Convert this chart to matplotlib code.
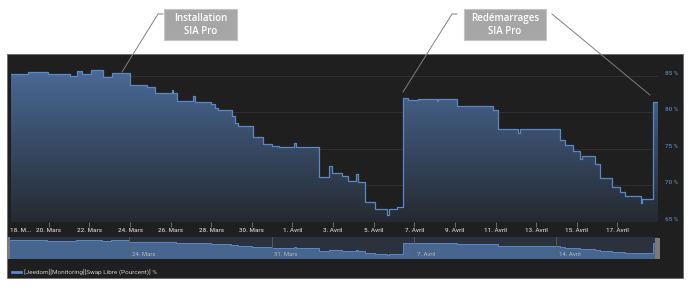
import matplotlib
matplotlib.use('Agg')
import matplotlib.pyplot as plt
import matplotlib.dates as mdates
import matplotlib.transforms as mtransforms
from matplotlib.patches import Rectangle
from matplotlib.lines import Line2D
import numpy as np
import pandas as pd

# Swap libre (%), steps held until next point
start = pd.Timestamp('2019-03-18')
day_offsets = [0.14, 0.98, 1.97, 3.05, 3.39, 3.64, 4.08, 4.67, 5.12, 6.00,
               6.84, 7.24, 8.07, 8.12, 8.32, 9.11, 9.21, 10.00, 10.19, 10.34,
               11.03, 11.18, 11.33, 12.06, 12.56, 13.00, 13.34, 14.08, 14.18, 15.32,
               15.81, 15.96, 16.45, 16.74, 17.14, 17.24, 17.58, 18.07, 18.67, 18.77,
               19.16, 19.45, 19.70, 20.19, 21.13, 21.18, 22.11, 23.89, 24.13, 25.12,
               25.22, 27.19, 27.43, 27.83, 28.17, 28.27, 28.91, 29.16, 29.75, 30.14,
               30.38, 31.18, 31.23, 31.77, 32.00]
swap_values = [85.3, 85.5, 85.2, 85.0, 85.7, 85.3, 85.8, 84.9, 85.4, 83.7,
               83.5, 82.6, 83.1, 82.6, 81.6, 82.2, 81.4, 81.1, 80.6, 80.3,
               79.5, 78.6, 78.1, 76.6, 75.7, 75.4, 75.2, 75.8, 75.3, 71.2,
               72.7, 71.7, 71.3, 70.6, 71.6, 70.5, 67.7, 66.8, 66.0, 66.8,
               67.1, 82.0, 81.7, 81.9, 81.6, 81.8, 80.9, 80.3, 77.8, 77.2,
               77.7, 76.2, 75.6, 74.7, 73.6, 74.1, 72.9, 71.0, 69.8, 69.1,
               68.5, 67.6, 68.2, 81.4, 81.4]

tick_dates = ['2019-03-20', '2019-03-22', '2019-03-24', '2019-03-26', '2019-03-28',
              '2019-03-30', '2019-04-01', '2019-04-03', '2019-04-05', '2019-04-07',
              '2019-04-09', '2019-04-11', '2019-04-13', '2019-04-15', '2019-04-17']
tick_labels = ['20. Mars', '22. Mars', '24. Mars', '26. Mars', '28. Mars',
               '30. Mars', '1. Avril', '3. Avril', '5. Avril', '7. Avril',
               '9. Avril', '11. Avril', '13. Avril', '15. Avril', '17. Avril']
nav_dates = ['2019-03-24', '2019-03-31', '2019-04-07', '2019-04-14']
nav_labels = ['24. Mars', '31. Mars', '7. Avril', '14. Avril']
y_ticks = [65, 70, 75, 80, 85]

times = start + pd.to_timedelta(day_offsets, unit='D')
tnum = mdates.date2num(times.to_pydatetime())

W, H = 690, 287
def box(x0, y0, x1, y1):
    return [x0 / W, 1 - y1 / H, (x1 - x0) / W, (y1 - y0) / H]

fig = plt.figure(figsize=(6.9, 2.87), dpi=100)
fig.patch.set_facecolor('white')

# dark panel (behind the axes)
fig.patches.append(Rectangle((7 / W, 1 - 278 / H), 676 / W, 224 / H, transform=fig.transFigure,
                             facecolor='#1f1f1f', edgecolor='#6a6a6a', lw=0.6, zorder=-10))

line_col = '#5b87c3'
tick_font = 'Roboto'

# main chart
ax = fig.add_axes(box(11, 54, 658, 222))
ax.set_facecolor('none')
ymin, ymax = 65, 88
poly = ax.fill_between(tnum, swap_values, ymin, step='post', color='none', lw=0)
grad = np.linspace(1, 0, 256).reshape(-1, 1)
cmap = matplotlib.colors.LinearSegmentedColormap.from_list('g', ['#252a31', '#4a6a98'])
im = ax.imshow(grad, extent=[tnum[0], tnum[-1], ymin, 86], aspect='auto', cmap=cmap,
               origin='upper', zorder=1)
im.set_clip_path(poly.get_paths()[0], transform=ax.transData)
ax.set_xlim(tnum[0], tnum[-1])
ax.set_ylim(ymin, ymax)
ax.step(tnum, swap_values, where='post', color=line_col, lw=0.9, zorder=3)

ax.set_yticks(y_ticks)
ax.set_yticklabels([f'{v} %' for v in y_ticks])
ax.yaxis.tick_right()
ax.tick_params(axis='y', length=0, pad=5, labelsize=4.5, labelcolor='#5d80b3')
ax.grid(axis='y', color='#333333', lw=0.6, zorder=0)
ax.set_axisbelow(True)
shift = mtransforms.ScaledTranslation(0, 3 / 100, fig.dpi_scale_trans)
for lab in ax.get_yticklabels():
    lab.set_transform(lab.get_transform() + shift)

xt = mdates.date2num(pd.to_datetime(tick_dates).to_pydatetime())
ax.set_xticks(xt)
ax.set_xticklabels(tick_labels)
ax.tick_params(axis='x', length=3.6, width=0.5, color='#8a8a8a', pad=0.8,
               labelsize=4.5, labelcolor='#c8c8c8')
for lab in ax.get_xticklabels() + ax.get_yticklabels():
    lab.set_fontfamily(tick_font)
    lab.set_fontweight('medium')
for s in ax.spines.values():
    s.set_visible(False)
fig.text(10 / W, 1 - 230 / H, '18. M...', fontsize=4.5, color='#c8c8c8',
         family=tick_font, weight='medium', va='center', ha='left')

# navigator
nav = fig.add_axes(box(10, 237, 658, 259))
nav.set_facecolor('#2b323d')
nav.set_xlim(tnum[0], tnum[-1])
nav.set_ylim(60, 90)
nav.fill_between(tnum, swap_values, 60, step='post', color='#46658f', lw=0)
nav.step(tnum, swap_values, where='post', color=line_col, lw=0.7)
nt = mdates.date2num(pd.to_datetime(nav_dates).to_pydatetime())
for x, lab in zip(nt, nav_labels):
    nav.axvline(x, color='#5a5f66', lw=0.6)
    nav.annotate(lab, (x, 60), xytext=(2, 1.5), textcoords='offset points',
                 fontsize=4.3, color='#b8b8b8', family=tick_font, va='bottom')
nav.set_xticks([])
nav.set_yticks([])
for s in nav.spines.values():
    s.set_visible(False)
fig.patches.append(Rectangle((7 / W, 1 - 259 / H), 3 / W, 22 / H, transform=fig.transFigure,
                             facecolor='#7a7a7a', lw=0))
fig.patches.append(Rectangle((655 / W, 1 - 259 / H), 5 / W, 21 / H, transform=fig.transFigure,
                             facecolor='#7a7a7a', lw=0))

# legend
fig.add_artist(Line2D([12 / W, 21 / W], [1 - 272 / H] * 2, color=line_col, lw=2))
fig.text(24 / W, 1 - 272 / H, '[Jeedom][Monitoring][Swap Libre (Pourcent)] %',
         fontsize=4.6, color='#c8c8c8', family=tick_font, va='center')

# annotation boxes
def note(x0, x1, text):
    fig.patches.append(Rectangle((x0 / W, 1 - 40 / H), (x1 - x0) / W, 31 / H,
                                 transform=fig.transFigure, facecolor='#a6a6a6',
                                 edgecolor='#c4c4c4', lw=0.8))
    fig.text((x0 + x1) / 2 / W, 1 - 24.7 / H, text, ha='center', va='center',
             fontsize=7, color='white', family='Open Sans', weight='semibold',
             linespacing=1.25)

note(164, 237, 'Installation\nSIA Pro')
note(464, 546, 'Redémarrages\nSIA Pro')

def leader(pts):
    xs = [p[0] / W for p in pts]
    ys = [1 - p[1] / H for p in pts]
    fig.add_artist(Line2D(xs, ys, color='#7f7f7f', lw=0.7))

leader([(163, 14), (158, 14), (122, 72)])
leader([(457, 14), (452, 14), (403, 92)])
leader([(552, 14), (650, 95)])

fig.savefig('out.png', dpi=100)
